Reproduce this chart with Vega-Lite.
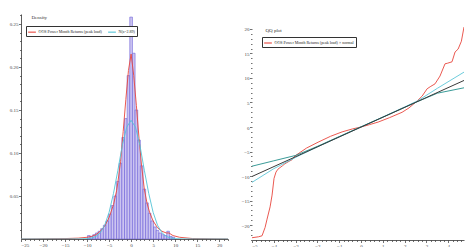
{
"$schema": "https://vega.github.io/schema/vega-lite/v6.json",
"padding": {"left": 9, "top": 14, "right": 0, "bottom": 0},
"spacing": 12,
"config": {
 "view": {"stroke": null},
 "axis": {"labelFont": "Liberation Serif", "labelFontSize": 5, "labelColor": "#444", "tickColor": "#333", "domainColor": "#333", "domainWidth": 0.8, "tickWidth": 0.7, "tickSize": 2.5, "labelPadding": 0.5, "grid": false, "labelOverlap": false, "titleFont": "Liberation Serif", "titleFontSize": 5, "titleFontWeight": "normal", "titleColor": "#333"},
 "legend": {"labelFont": "Liberation Serif", "labelFontSize": 4, "labelColor": "#222", "symbolType": "stroke", "symbolSize": 60, "symbolStrokeWidth": 1.1, "strokeColor": "#333", "fillColor": "white", "padding": 1.5, "columnPadding": 3, "labelOffset": 2, "labelLimit": 300}
},
"resolve": {"scale": {"color": "independent", "x": "independent", "y": "independent"}, "legend": {"color": "independent"}},
"datasets": {
 "bars": [
  {"x0": -9.9, "x1": -9.3, "d": 0.004}, {"x0": -9.3, "x1": -8.7, "d": 0.003}, {"x0": -8.7, "x1": -8.1, "d": 0.005},
  {"x0": -8.1, "x1": -7.5, "d": 0.007}, {"x0": -7.5, "x1": -6.9, "d": 0.009}, {"x0": -6.9, "x1": -6.3, "d": 0.012},
  {"x0": -6.3, "x1": -5.7, "d": 0.016}, {"x0": -5.7, "x1": -5.1, "d": 0.021}, {"x0": -5.1, "x1": -4.5, "d": 0.029},
  {"x0": -4.5, "x1": -3.9, "d": 0.039}, {"x0": -3.9, "x1": -3.3, "d": 0.05}, {"x0": -3.3, "x1": -2.7, "d": 0.067},
  {"x0": -2.7, "x1": -2.1, "d": 0.088}, {"x0": -2.1, "x1": -1.5, "d": 0.118}, {"x0": -1.5, "x1": -0.9, "d": 0.14},
  {"x0": -0.9, "x1": -0.3, "d": 0.19}, {"x0": -0.3, "x1": 0.3, "d": 0.258}, {"x0": 0.3, "x1": 0.9, "d": 0.216},
  {"x0": 0.9, "x1": 1.5, "d": 0.15}, {"x0": 1.5, "x1": 2.1, "d": 0.115}, {"x0": 2.1, "x1": 2.7, "d": 0.085},
  {"x0": 2.7, "x1": 3.3, "d": 0.058}, {"x0": 3.3, "x1": 3.9, "d": 0.042}, {"x0": 3.9, "x1": 4.5, "d": 0.03},
  {"x0": 4.5, "x1": 5.1, "d": 0.021}, {"x0": 5.1, "x1": 5.7, "d": 0.014}, {"x0": 5.7, "x1": 6.3, "d": 0.01},
  {"x0": 6.3, "x1": 6.9, "d": 0.007}, {"x0": 6.9, "x1": 7.5, "d": 0.005}, {"x0": 7.5, "x1": 8.1, "d": 0.004},
  {"x0": 8.1, "x1": 8.7, "d": 0.009}, {"x0": 8.7, "x1": 9.3, "d": 0.003}, {"x0": 9.3, "x1": 9.9, "d": 0.002}
 ],
 "dens": [
  {"s": "OOS Power Month Returns (peak load)", "x": -25, "d": 0}, {"s": "OOS Power Month Returns (peak load)", "x": -15, "d": 0.0005},
  {"s": "OOS Power Month Returns (peak load)", "x": -12, "d": 0.001}, {"s": "OOS Power Month Returns (peak load)", "x": -10, "d": 0.002},
  {"s": "OOS Power Month Returns (peak load)", "x": -9, "d": 0.003}, {"s": "OOS Power Month Returns (peak load)", "x": -8, "d": 0.005},
  {"s": "OOS Power Month Returns (peak load)", "x": -7, "d": 0.009}, {"s": "OOS Power Month Returns (peak load)", "x": -6, "d": 0.015},
  {"s": "OOS Power Month Returns (peak load)", "x": -5, "d": 0.025}, {"s": "OOS Power Month Returns (peak load)", "x": -4, "d": 0.04},
  {"s": "OOS Power Month Returns (peak load)", "x": -3.3, "d": 0.056}, {"s": "OOS Power Month Returns (peak load)", "x": -3, "d": 0.066},
  {"s": "OOS Power Month Returns (peak load)", "x": -2.4, "d": 0.09}, {"s": "OOS Power Month Returns (peak load)", "x": -1.8, "d": 0.125},
  {"s": "OOS Power Month Returns (peak load)", "x": -1.2, "d": 0.162}, {"s": "OOS Power Month Returns (peak load)", "x": -0.6, "d": 0.196},
  {"s": "OOS Power Month Returns (peak load)", "x": 0, "d": 0.215}, {"s": "OOS Power Month Returns (peak load)", "x": 0.6, "d": 0.19},
  {"s": "OOS Power Month Returns (peak load)", "x": 1.2, "d": 0.155}, {"s": "OOS Power Month Returns (peak load)", "x": 1.8, "d": 0.117},
  {"s": "OOS Power Month Returns (peak load)", "x": 2.4, "d": 0.084}, {"s": "OOS Power Month Returns (peak load)", "x": 3, "d": 0.058},
  {"s": "OOS Power Month Returns (peak load)", "x": 3.6, "d": 0.042}, {"s": "OOS Power Month Returns (peak load)", "x": 4.2, "d": 0.031},
  {"s": "OOS Power Month Returns (peak load)", "x": 5, "d": 0.021}, {"s": "OOS Power Month Returns (peak load)", "x": 6, "d": 0.013},
  {"s": "OOS Power Month Returns (peak load)", "x": 7, "d": 0.009}, {"s": "OOS Power Month Returns (peak load)", "x": 8, "d": 0.007},
  {"s": "OOS Power Month Returns (peak load)", "x": 8.6, "d": 0.007}, {"s": "OOS Power Month Returns (peak load)", "x": 9.5, "d": 0.004},
  {"s": "OOS Power Month Returns (peak load)", "x": 11, "d": 0.002}, {"s": "OOS Power Month Returns (peak load)", "x": 14, "d": 0.0005},
  {"s": "OOS Power Month Returns (peak load)", "x": 22, "d": 0},
  {"s": "N(s=2.89)", "x": -25, "d": 0}, {"s": "N(s=2.89)", "x": -12, "d": 0.0001}, {"s": "N(s=2.89)", "x": -10, "d": 0.0004},
  {"s": "N(s=2.89)", "x": -9, "d": 0.0011}, {"s": "N(s=2.89)", "x": -8, "d": 0.003}, {"s": "N(s=2.89)", "x": -7, "d": 0.0073},
  {"s": "N(s=2.89)", "x": -6, "d": 0.016}, {"s": "N(s=2.89)", "x": -5, "d": 0.031}, {"s": "N(s=2.89)", "x": -4, "d": 0.053},
  {"s": "N(s=2.89)", "x": -3, "d": 0.08}, {"s": "N(s=2.89)", "x": -2, "d": 0.109}, {"s": "N(s=2.89)", "x": -1, "d": 0.13},
  {"s": "N(s=2.89)", "x": 0, "d": 0.138}, {"s": "N(s=2.89)", "x": 1, "d": 0.13}, {"s": "N(s=2.89)", "x": 2, "d": 0.109},
  {"s": "N(s=2.89)", "x": 3, "d": 0.08}, {"s": "N(s=2.89)", "x": 4, "d": 0.053}, {"s": "N(s=2.89)", "x": 5, "d": 0.031},
  {"s": "N(s=2.89)", "x": 6, "d": 0.016}, {"s": "N(s=2.89)", "x": 7, "d": 0.0073}, {"s": "N(s=2.89)", "x": 8, "d": 0.003},
  {"s": "N(s=2.89)", "x": 9, "d": 0.0011}, {"s": "N(s=2.89)", "x": 10, "d": 0.0004}, {"s": "N(s=2.89)", "x": 12, "d": 0.0001},
  {"s": "N(s=2.89)", "x": 22, "d": 0}
 ],
 "qq": [
  {"q": -5.0, "v": -22.6}, {"q": -4.7, "v": -22.4}, {"q": -4.54, "v": -22.2}, {"q": -4.4, "v": -20.5}, {"q": -4.31, "v": -18.8},
  {"q": -4.17, "v": -16.3}, {"q": -4.08, "v": -13.9}, {"q": -3.99, "v": -10.5}, {"q": -3.9, "v": -9.2}, {"q": -3.81, "v": -8.6},
  {"q": -3.6, "v": -7.9}, {"q": -3.49, "v": -7.5}, {"q": -3.3, "v": -7.0}, {"q": -3.17, "v": -6.7}, {"q": -3.03, "v": -5.9},
  {"q": -2.5, "v": -4.3}, {"q": -1.97, "v": -3.1}, {"q": -1.4, "v": -1.9}, {"q": -0.87, "v": -1.0}, {"q": -0.4, "v": -0.4},
  {"q": 0, "v": 0}, {"q": 0.4, "v": 0.5}, {"q": 0.78, "v": 1.0}, {"q": 1.3, "v": 1.9}, {"q": 1.88, "v": 3.0},
  {"q": 2.2, "v": 3.9}, {"q": 2.57, "v": 5.3}, {"q": 2.8, "v": 6.3}, {"q": 3.03, "v": 7.8}, {"q": 3.2, "v": 8.3},
  {"q": 3.39, "v": 8.8}, {"q": 3.62, "v": 10.4}, {"q": 3.85, "v": 12.9}, {"q": 3.95, "v": 13.0}, {"q": 4.17, "v": 13.3},
  {"q": 4.31, "v": 15.3}, {"q": 4.45, "v": 15.9}, {"q": 4.6, "v": 17.5}, {"q": 4.72, "v": 20.4}
 ],
 "refline": [{"q": -5, "v": -10.1}, {"q": 4.72, "v": 9.5}],
 "teal": [
  {"q": -5, "v": -8.0}, {"q": -4, "v": -6.9}, {"q": -3, "v": -5.8}, {"q": -2, "v": -3.95}, {"q": -1, "v": -1.95},
  {"q": 0, "v": 0.05}, {"q": 1, "v": 2.0}, {"q": 2, "v": 4.0}, {"q": 2.6, "v": 5.2}, {"q": 3.5, "v": 6.9}, {"q": 4.72, "v": 8.0}
 ],
 "cyan": [
  {"q": -5, "v": -11.3}, {"q": -4, "v": -8.5}, {"q": -3, "v": -6.2}, {"q": -2, "v": -4.05}, {"q": -1, "v": -2.0},
  {"q": 0, "v": 0}, {"q": 1, "v": 2.05}, {"q": 2, "v": 4.1}, {"q": 2.6, "v": 5.35}, {"q": 3.5, "v": 7.9}, {"q": 4.72, "v": 11.2}
 ]
},
"hconcat": [
 {
  "width": 207, "height": 225,
  "resolve": {"axis": {"x": "independent", "y": "independent"}},
  "layer": [
   {
    "data": {"name": "bars"},
    "mark": {"type": "point", "opacity": 0},
    "encoding": {
     "x": {"field": "x0", "type": "quantitative", "scale": {"domain": [-25, 22], "nice": false, "zero": false},
      "axis": {"orient": "bottom", "title": null, "labels": false, "domain": false, "tickSize": 1.5,
       "values": [-24,-23,-22,-21,-19,-18,-17,-16,-14,-13,-12,-11,-9,-8,-7,-6,-4,-3,-2,-1,1,2,3,4,6,7,8,9,11,12,13,14,16,17,18,19,21,22]}},
     "y": {"field": "d", "type": "quantitative", "scale": {"domain": [0, 0.2616], "nice": false},
      "axis": {"orient": "left", "title": null, "labels": false, "domain": false, "tickSize": 1.5,
       "values": [0.01,0.02,0.03,0.04,0.06,0.07,0.08,0.09,0.11,0.12,0.13,0.14,0.16,0.17,0.18,0.19,0.21,0.22,0.23,0.24,0.26]}}
    }
   },
   {
    "data": {"name": "bars"},
    "mark": {"type": "bar", "fill": "#ccc5f1", "stroke": "#6c60d8", "strokeWidth": 0.6},
    "encoding": {
     "x": {"field": "x0", "type": "quantitative",
      "axis": {"orient": "bottom", "title": null, "values": [-25,-20,-15,-10,-5,0,5,10,15,20], "format": "d"}},
     "x2": {"field": "x1"},
     "y": {"field": "d", "type": "quantitative",
      "axis": {"orient": "left", "title": "Density", "titleAngle": 0, "titleAlign": "left", "titleBaseline": "middle", "titleX": 10, "titleY": 2,
       "values": [0.05, 0.1, 0.15, 0.2, 0.25], "format": ".2f"}},
     "y2": {"datum": 0}
    }
   },
   {
    "data": {"name": "dens"},
    "mark": {"type": "line", "strokeWidth": 0.9, "clip": true},
    "encoding": {
     "x": {"field": "x", "type": "quantitative", "axis": null},
     "y": {"field": "d", "type": "quantitative", "axis": null},
     "color": {"field": "s", "type": "nominal", "sort": null,
      "scale": {"domain": ["OOS Power Month Returns (peak load)", "N(s=2.89)"], "range": ["#e8463d", "#52c3d6"]},
      "legend": {"title": null, "orient": "none", "legendX": 5, "legendY": 12, "direction": "horizontal"}}
    }
   }
  ]
 },
 {
  "width": 212, "height": 226,
  "resolve": {"axis": {"x": "independent", "y": "independent"}},
  "layer": [
   {
    "data": {"name": "qq"},
    "mark": {"type": "point", "opacity": 0},
    "encoding": {
     "x": {"field": "q", "type": "quantitative", "scale": {"domain": [-5, 4.72], "nice": false, "zero": false},
      "axis": {"orient": "bottom", "title": null, "labels": false, "domain": false, "tickSize": 1.5,
       "values": [-4.8,-4.6,-4.4,-4.2,-3.8,-3.6,-3.4,-3.2,-2.8,-2.6,-2.4,-2.2,-1.8,-1.6,-1.4,-1.2,-0.8,-0.6,-0.4,-0.2,0.2,0.4,0.6,0.8,1.2,1.4,1.6,1.8,2.2,2.4,2.6,2.8,3.2,3.4,3.6,3.8,4.2,4.4,4.6]}},
     "y": {"field": "v", "type": "quantitative", "scale": {"domain": [-23.06, 23.06], "nice": false, "zero": false},
      "axis": {"orient": "left", "title": null, "labels": false, "domain": false, "tickSize": 1.5,
       "values": [-23,-22,-21,-19,-18,-17,-16,-14,-13,-12,-11,-9,-8,-7,-6,-4,-3,-2,-1,1,2,3,4,6,7,8,9,11,12,13,14,16,17,18,19]}}
    }
   },
   {
    "mark": {"type": "rule", "stroke": "#8a8a8a", "strokeWidth": 1},
    "encoding": {"y": {"datum": 0, "type": "quantitative", "axis": null}}
   },
   {
    "mark": {"type": "rule", "stroke": "#333", "strokeWidth": 0.8},
    "encoding": {"x": {"datum": -5, "type": "quantitative", "axis": null}, "y": {"datum": -23.06, "type": "quantitative", "axis": null}, "y2": {"datum": 20.6}}
   },
   {
    "data": {"name": "qq"},
    "mark": {"type": "line", "strokeWidth": 0.9, "clip": true},
    "encoding": {
     "x": {"field": "q", "type": "quantitative",
      "axis": {"orient": "bottom", "title": null, "values": [-5,-4,-3,-2,-1,0,1,2,3,4], "format": "d"}},
     "y": {"field": "v", "type": "quantitative",
      "axis": {"orient": "left", "title": "QQ plot", "titleAngle": 0, "titleAlign": "left", "titleBaseline": "middle", "titleX": 13, "titleY": 15, "domain": false,
       "values": [-20,-15,-10,-5,0,5,10,15,20], "format": "d"}},
     "color": {"datum": "OOS Power Month Returns (peak load) × normal", "type": "nominal",
      "scale": {"range": ["#e8463d"]},
      "legend": {"title": null, "orient": "none", "legendX": 10, "legendY": 23, "direction": "horizontal"}}
    }
   },
   {
    "data": {"name": "cyan"},
    "mark": {"type": "line", "strokeWidth": 0.9, "stroke": "#5cc6d8"},
    "encoding": {"x": {"field": "q", "type": "quantitative", "axis": null}, "y": {"field": "v", "type": "quantitative", "axis": null}}
   },
   {
    "data": {"name": "teal"},
    "mark": {"type": "line", "strokeWidth": 0.9, "stroke": "#24908c"},
    "encoding": {"x": {"field": "q", "type": "quantitative", "axis": null}, "y": {"field": "v", "type": "quantitative", "axis": null}}
   },
   {
    "data": {"name": "refline"},
    "mark": {"type": "line", "strokeWidth": 1, "stroke": "#3a3a3a"},
    "encoding": {"x": {"field": "q", "type": "quantitative", "axis": null}, "y": {"field": "v", "type": "quantitative", "axis": null}}
   }
  ]
 }
]
}
